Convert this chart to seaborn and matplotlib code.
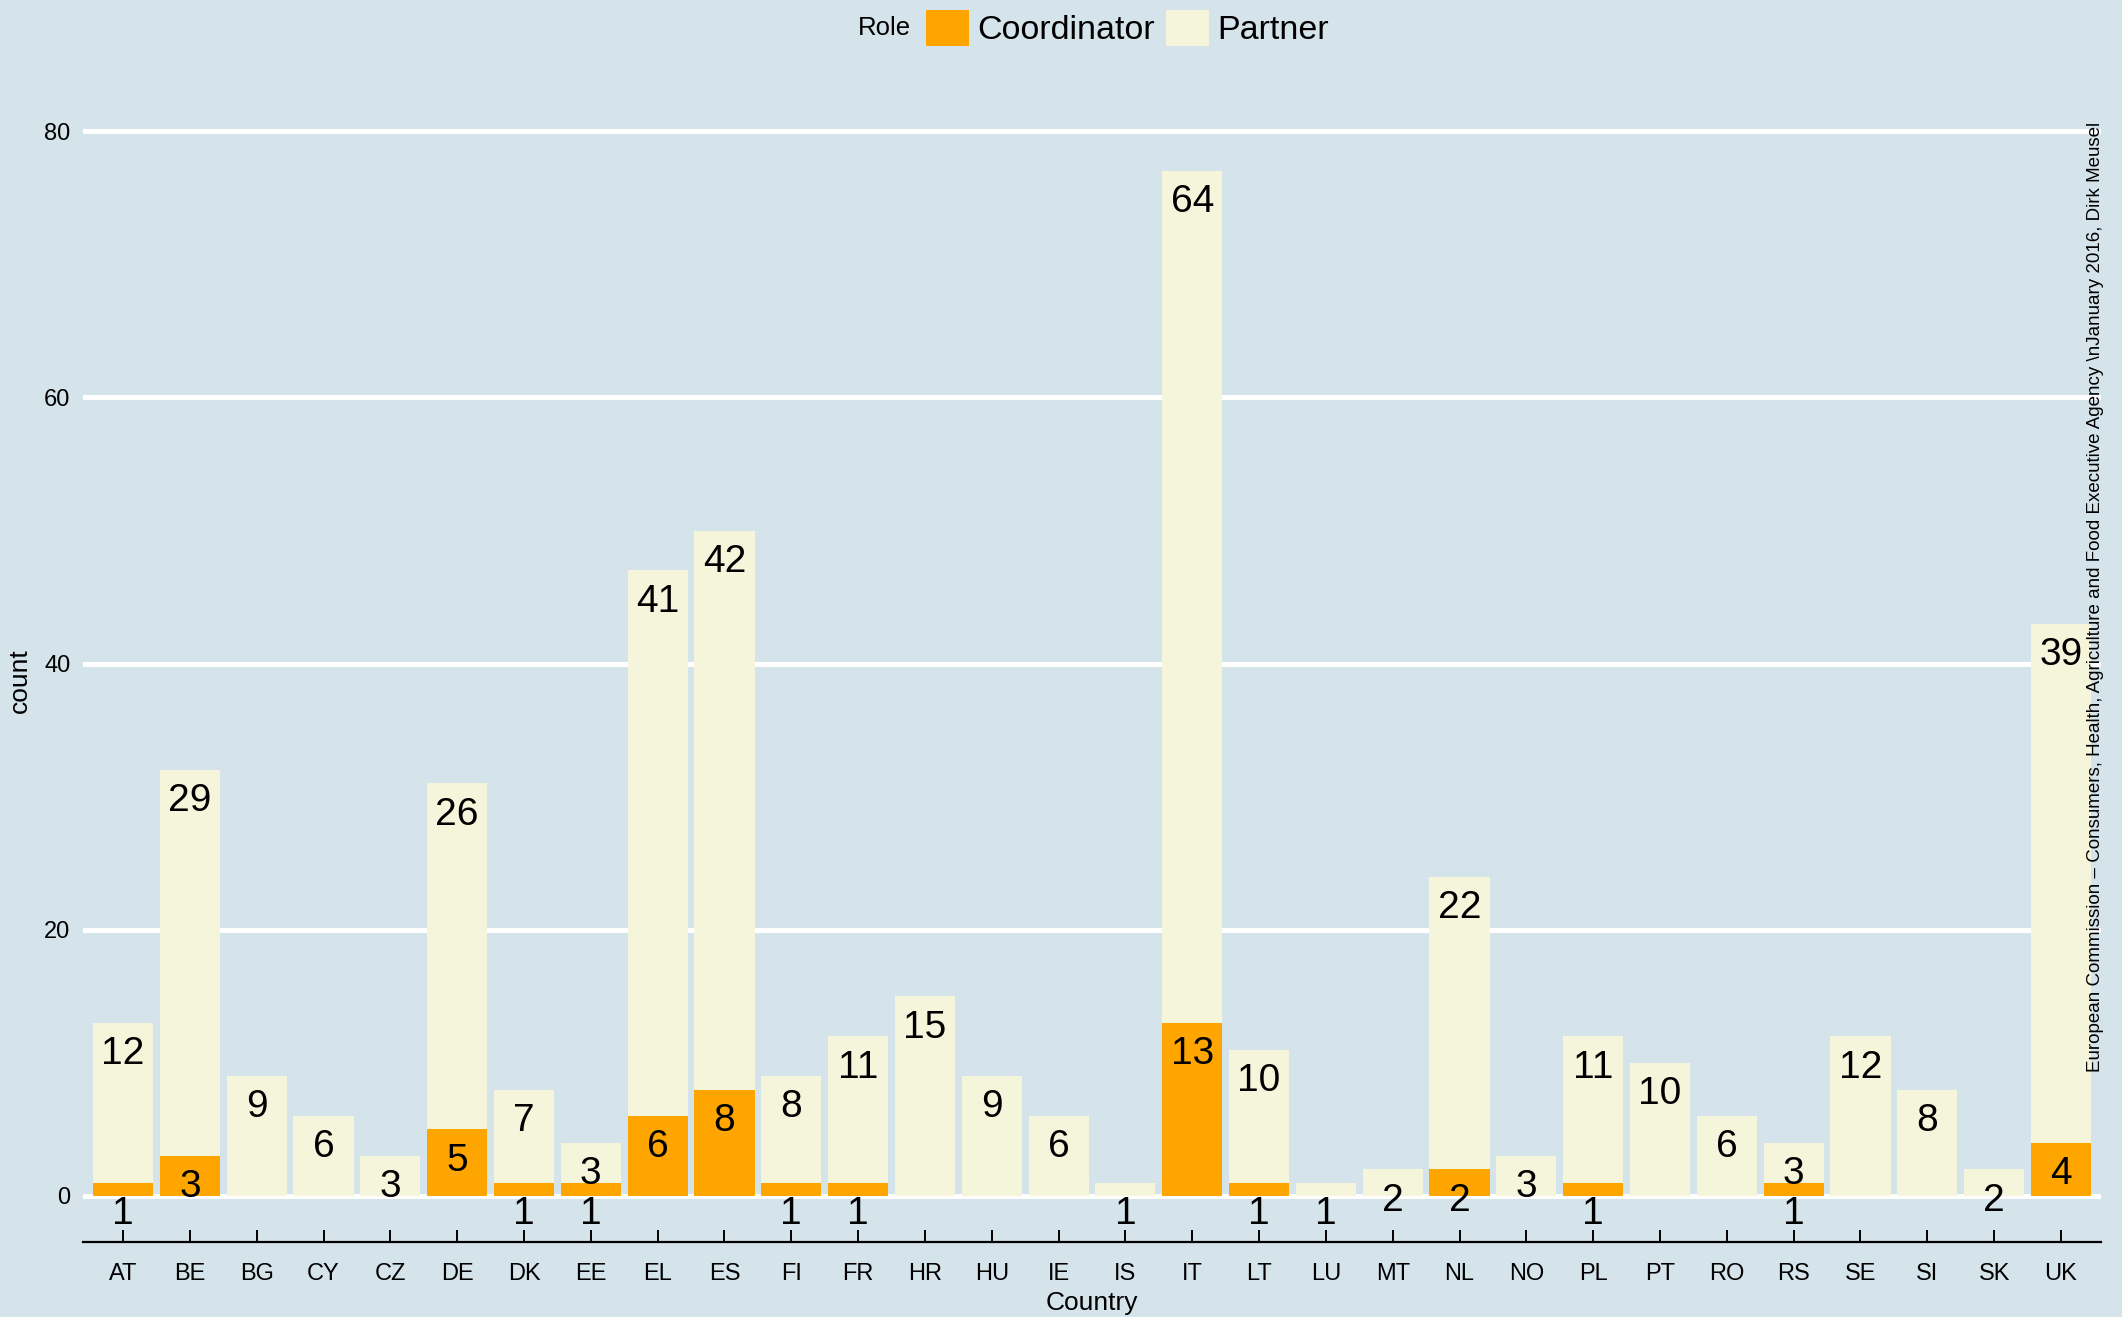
import numpy as np
import pandas as pd
import matplotlib
matplotlib.use("Agg")
import matplotlib.pyplot as plt
import seaborn as sns
from matplotlib.patches import Patch

# --- data ---
countries = ['AT', 'BE', 'BG', 'CY', 'CZ', 'DE', 'DK', 'EE', 'EL', 'ES',
             'FI', 'FR', 'HR', 'HU', 'IE', 'IS', 'IT', 'LT', 'LU', 'MT',
             'NL', 'NO', 'PL', 'PT', 'RO', 'RS', 'SE', 'SI', 'SK', 'UK']
coordinator = [1, 3, 0, 0, 0, 5, 1, 1, 6, 8,
               1, 1, 0, 0, 0, 0, 13, 1, 0, 0,
               2, 0, 1, 0, 0, 1, 0, 0, 0, 4]
partner = [12, 29, 9, 6, 3, 26, 7, 3, 41, 42,
           8, 11, 15, 9, 6, 1, 64, 10, 1, 2,
           22, 3, 11, 10, 6, 3, 12, 8, 2, 39]
yticks = [0, 20, 40, 60, 80]

df = pd.DataFrame({'Country': countries, 'Coordinator': coordinator, 'Partner': partner})
df['Total'] = df['Coordinator'] + df['Partner']

# --- style ---
BG = '#d5e4eb'
ORANGE = '#ffa500'
BEIGE = '#f5f5dc'

sns.set_style('white')
plt.rcParams['font.family'] = ['Liberation Sans', 'DejaVu Sans']
plt.rcParams['text.color'] = 'black'
plt.rcParams['axes.labelcolor'] = 'black'
plt.rcParams['xtick.color'] = 'black'
plt.rcParams['ytick.color'] = 'black'

W, H = 2122, 1317
fig = plt.figure(figsize=(W / 100, H / 100), dpi=100, facecolor=BG)

# panel placement in pixels (0 at y=1196, 13.31 px per unit)
left_px, right_px = 83, 2101
ymin, ymax = -3.45, 80.85
y0_px, ppu = 1196, 13.31
bottom_px = y0_px - ymin * ppu
top_px = y0_px - ymax * ppu
ax = fig.add_axes([left_px / W, 1 - bottom_px / H,
                   (right_px - left_px) / W, (bottom_px - top_px) / H])
ax.set_facecolor(BG)

# stacked bars: total (partner on top) then coordinator over it
sns.barplot(data=df, x='Country', y='Total', color=BEIGE, saturation=1,
            width=0.9, ax=ax, linewidth=0)
sns.barplot(data=df, x='Country', y='Coordinator', color=ORANGE, saturation=1,
            width=0.9, ax=ax, linewidth=0)

ax.set_xlim(-0.6, len(countries) - 0.4)
ax.set_ylim(ymin, ymax)
ax.set_yticks(yticks)
ax.yaxis.grid(True, color='white', linewidth=3.6)
ax.xaxis.grid(False)
ax.set_axisbelow(True)

for s in ['top', 'right', 'left']:
    ax.spines[s].set_visible(False)
ax.spines['bottom'].set_color('black')
ax.spines['bottom'].set_linewidth(1.6)

ax.tick_params(axis='x', bottom=True, direction='in', length=9, width=1.4,
               color='black', labelcolor='black', labelsize=17, pad=15)
ax.tick_params(axis='y', left=False, length=0, labelcolor='black', labelsize=17, pad=9)

# value labels, just below the top of each segment
for i, row in df.iterrows():
    ax.annotate(str(row['Partner']), (i, row['Total']), xytext=(0, -22.5),
                textcoords='offset points', ha='center', va='center', fontsize=28,
                color='black')
    if row['Coordinator'] > 0:
        ax.annotate(str(row['Coordinator']), (i, row['Coordinator']), xytext=(0, -22.5),
                    textcoords='offset points', ha='center', va='center', fontsize=28,
                    color='black')

ax.set_xlabel('Country', fontsize=19, color='black')
ax.set_ylabel('count', fontsize=19, color='black')
ax.xaxis.set_label_coords(0.5, (bottom_px - 1303) / (bottom_px - top_px))
ax.xaxis.label.set_va('center')
ax.yaxis.set_label_coords((20 - left_px) / (right_px - left_px), 0.5)
ax.yaxis.label.set_va('center')

# legend at the top
fig.text(911 / W, 1 - 28 / H, 'Role', ha='right', va='center', fontsize=18.5, color='black')
handles = [Patch(facecolor=ORANGE, edgecolor='none'), Patch(facecolor=BEIGE, edgecolor='none')]
fig.legend(handles, ['Coordinator', 'Partner'], loc='center left',
           bbox_to_anchor=(926 / W, 1 - 28 / H), ncol=2, frameon=False,
           fontsize=24.5, handlelength=1.27, handleheight=1.27, labelcolor='black',
           handletextpad=0.24, columnspacing=0.33, borderpad=0, borderaxespad=0)

# caption on the right
fig.text(2096 / W, 1 - 122 / H,
         'European Commission \u2013 Consumers, Health, Agriculture and Food Executive Agency \\nJanuary 2016, Dirk Meusel',
         rotation=90, ha='center', va='top', fontsize=13.5, color='black')

fig.savefig('out.png', dpi=100, facecolor=BG)
